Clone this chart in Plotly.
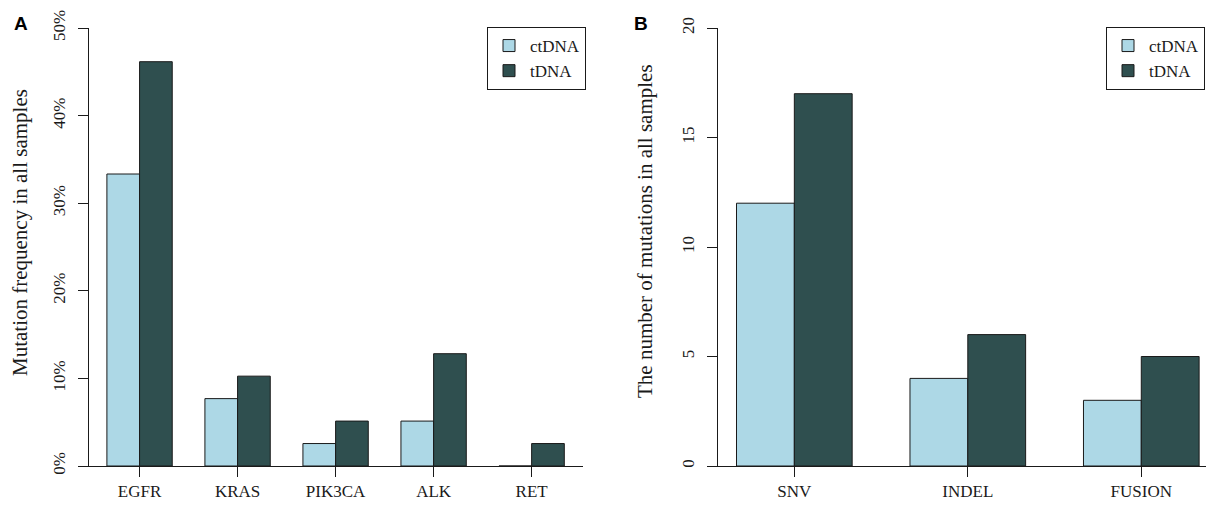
import plotly.graph_objects as go

# ---- data ----
genes = ["EGFR", "KRAS", "PIK3CA", "ALK", "RET"]
freq_ctdna = [13/39, 3/39, 1/39, 2/39, 0.0]
freq_tdna = [18/39, 4/39, 2/39, 5/39, 1/39]

mut_types = ["SNV", "INDEL", "FUSION"]
count_ctdna = [12, 4, 3]
count_tdna = [17, 6, 5]

pct_ticks = [0, 0.1, 0.2, 0.3, 0.4, 0.5]
count_ticks = [0, 5, 10, 15, 20]

# ---- style ----
W, H = 1206, 506
C_CT = "#ADD8E6"
C_T = "#2F4F4F"
SERIF = "Liberation Serif, Times New Roman, serif"
SANS = "Liberation Sans, Arial, sans-serif"
INK = "#1a1a1a"

def px(x):
    return x / W

def py(y):
    return (H - y) / H

fig = go.Figure()

bar_line = dict(color=INK, width=1)
fig.add_trace(go.Bar(x=genes, y=freq_ctdna, name="ctDNA", marker=dict(color=C_CT, line=bar_line),
                     xaxis="x", yaxis="y", legend="legend"))
fig.add_trace(go.Bar(x=genes, y=freq_tdna, name="tDNA", marker=dict(color=C_T, line=bar_line),
                     xaxis="x", yaxis="y", legend="legend"))
fig.add_trace(go.Bar(x=mut_types, y=count_ctdna, name="ctDNA", marker=dict(color=C_CT, line=bar_line),
                     xaxis="x2", yaxis="y2", legend="legend2"))
fig.add_trace(go.Bar(x=mut_types, y=count_tdna, name="tDNA", marker=dict(color=C_T, line=bar_line),
                     xaxis="x2", yaxis="y2", legend="legend2"))

ydom = [py(466), py(28)]
common_x = dict(type="category", showline=True, linecolor=INK, linewidth=1, ticks="outside",
                ticklen=10, tickwidth=1, tickcolor=INK, showgrid=False, zeroline=False,
                tickfont=dict(family=SERIF, size=17, color=INK), fixedrange=True)
common_y = dict(showline=True, linecolor=INK, linewidth=1, ticks="outside", ticklen=10,
                tickwidth=1, tickcolor=INK, showgrid=False, zeroline=False, tickangle=-90,
                ticklabelstandoff=6,
                tickfont=dict(family=SERIF, size=17, color=INK), domain=ydom, fixedrange=True)

legend_style = dict(bgcolor="white", bordercolor=INK, borderwidth=1,
                    font=dict(family=SERIF, size=17, color=INK), itemwidth=32,
                    xanchor="left", yanchor="top", traceorder="normal")

def note(text, x, y, font, angle=0):
    return dict(text=text, x=px(x), y=py(y), xref="paper", yref="paper", showarrow=False,
                xanchor="center", yanchor="middle", textangle=angle, font=font)

fig.update_layout(
    width=W, height=H,
    margin=dict(l=0, r=0, t=0, b=0, autoexpand=False),
    paper_bgcolor="white", plot_bgcolor="white",
    barmode="group", bargap=1/3, bargroupgap=0,
    xaxis=dict(common_x, domain=[px(88.6), px(582.6)], range=[-0.52, 4.52], anchor="y"),
    yaxis=dict(common_y, range=[0, 0.5], tickvals=pct_ticks, tickformat=".0%", anchor="x"),
    xaxis2=dict(common_x, domain=[px(718), 1.0], range=[-0.44, 2.373], anchor="y2"),
    yaxis2=dict(common_y, range=[0, 20], tickvals=count_ticks, anchor="x2"),
    legend=dict(legend_style, x=px(487), y=py(27)),
    legend2=dict(legend_style, x=px(1106), y=py(27)),
    showlegend=True,
    annotations=[
        note("<b>A</b>", 20.5, 24, dict(family=SANS, size=19, color="black")),
        note("<b>B</b>", 640.5, 24, dict(family=SANS, size=19, color="black")),
        note("Mutation frequency in all samples", 20, 233,
             dict(family=SERIF, size=21, color=INK), angle=-90),
        note("The number of mutations in all samples", 645, 231,
             dict(family=SERIF, size=21, color=INK), angle=-90),
    ],
)

# remove the browser's default 8px body margin so the figure fills the window exactly
fig.write_html("out.html",
               config={"displayModeBar": False, "staticPlot": True},
               post_script="document.body.style.margin='0';document.body.style.overflow='hidden';")
